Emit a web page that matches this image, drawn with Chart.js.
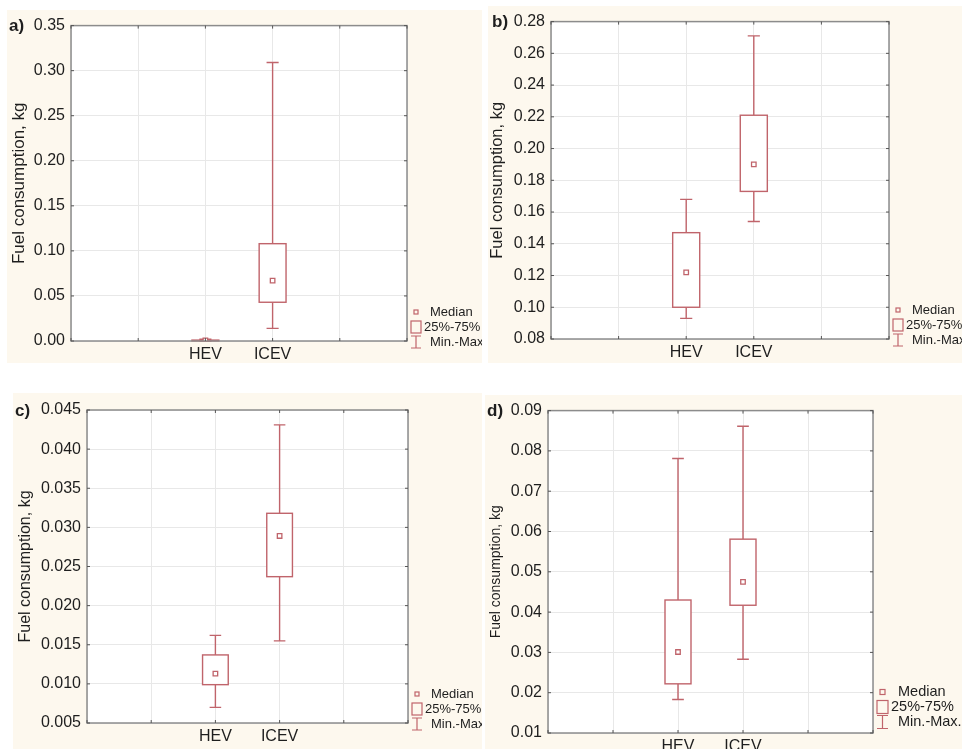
<!DOCTYPE html>
<html>
<head>
<meta charset="utf-8">
<script src="https://cdn.jsdelivr.net/npm/chart.js@4.4.1/dist/chart.umd.min.js"></script>
<style>
  html, body { margin: 0; padding: 0; background: #ffffff; }
  body { width: 962px; height: 749px; position: relative; overflow: hidden; }
  .panel { position: absolute; background: #fdf8ee; }
  .panel canvas { display: block; }
</style>
</head>
<body>
<div class="panel" id="pa" style="left:7px;top:10px;width:475px;height:353px"><canvas id="ca"></canvas></div>
<div class="panel" id="pb" style="left:488px;top:6px;width:474px;height:357px"><canvas id="cb"></canvas></div>
<div class="panel" id="pc" style="left:13px;top:393px;width:469px;height:356px"><canvas id="cc"></canvas></div>
<div class="panel" id="pd" style="left:485px;top:395px;width:477px;height:354px"><canvas id="cd"></canvas></div>
<script>
// groups sit on a 0..5 linear axis, at positions 2 and 3
const groups = ['HEV', 'ICEV'];
const groupPos = [2, 3];

// [min, q25, median, q75, max]
const aHEV = [0.0000, 0.0002, 0.0006, 0.0010, 0.0020];
const aICEV = [0.014, 0.043, 0.067, 0.108, 0.309];
const bHEV = [0.093, 0.100, 0.122, 0.147, 0.168];
const bICEV = [0.154, 0.173, 0.190, 0.221, 0.271];
const cHEV = [0.0070, 0.0099, 0.0113, 0.0137, 0.0162];
const cICEV = [0.0155, 0.0237, 0.0289, 0.0318, 0.0431];
const dHEV = [0.0183, 0.0222, 0.0301, 0.0430, 0.0781];
const dICEV = [0.0283, 0.0417, 0.0475, 0.0581, 0.0861];

const letters = ['a)', 'b)', 'c)', 'd)'];
const yMins = [0, 0.08, 0.005, 0.01];
const yMaxs = [0.35, 0.28, 0.045, 0.09];
const ySteps = [0.05, 0.02, 0.005, 0.01];
const yDecimals = [2, 2, 3, 2];
const legendLabels = ['Median', '25%-75%', 'Min.-Max.'];
const legendLabelsA = ['Median', '25%-75%', 'Min.-Max'];

const RED = '#c0646b';
const TEXT = '#1e1e1e';

const boxPlugin = {
  id: 'boxplot',
  beforeDraw(chart) {
    const { ctx, chartArea: a } = chart;
    ctx.save();
    ctx.fillStyle = '#ffffff';
    ctx.fillRect(a.left, a.top, a.right - a.left, a.bottom - a.top);
    ctx.restore();
  },
  beforeDatasetsDraw(chart, args, opts) {
    const { ctx, scales: { x, y } } = chart;
    ctx.save();
    ctx.strokeStyle = opts.color;
    ctx.lineWidth = 1.4;
    opts.stats.forEach((s, i) => {
      const cx = x.getPixelForValue(groupPos[i]);
      const half = x.getPixelForValue(groupPos[i] + 0.2) - cx;
      const cap = x.getPixelForValue(groupPos[i] + 0.09) - cx;
      const pMin = y.getPixelForValue(s[0]);
      const pQ1 = y.getPixelForValue(s[1]);
      const pQ3 = y.getPixelForValue(s[3]);
      const pMax = y.getPixelForValue(s[4]);
      ctx.beginPath();
      ctx.moveTo(cx, pMax); ctx.lineTo(cx, pQ3);
      ctx.moveTo(cx, pQ1); ctx.lineTo(cx, pMin);
      ctx.moveTo(cx - cap, pMax); ctx.lineTo(cx + cap, pMax);
      ctx.moveTo(cx - cap, pMin); ctx.lineTo(cx + cap, pMin);
      ctx.stroke();
      ctx.fillStyle = '#ffffff';
      ctx.fillRect(cx - half, pQ3, half * 2, pQ1 - pQ3);
      ctx.strokeRect(cx - half, pQ3, half * 2, pQ1 - pQ3);
    });
    ctx.restore();
  },
  afterDraw(chart, args, opts) {
    const { ctx, chartArea: a, scales: { x, y } } = chart;
    ctx.save();
    // frame
    ctx.strokeStyle = '#8c8c8c';
    ctx.lineWidth = 1.5;
    ctx.strokeRect(a.left, a.top, a.right - a.left, a.bottom - a.top);
    // small inner tick marks on the frame
    ctx.strokeStyle = '#555555';
    ctx.lineWidth = 1;
    ctx.beginPath();
    x.ticks.forEach(t => {
      const px = x.getPixelForValue(t.value);
      ctx.moveTo(px, a.top); ctx.lineTo(px, a.top + 3);
      ctx.moveTo(px, a.bottom); ctx.lineTo(px, a.bottom - 3);
    });
    y.ticks.forEach(t => {
      const py = y.getPixelForValue(t.value);
      ctx.moveTo(a.left, py); ctx.lineTo(a.left + 3, py);
      ctx.moveTo(a.right, py); ctx.lineTo(a.right - 3, py);
    });
    ctx.stroke();

    // panel letter
    ctx.fillStyle = TEXT;
    ctx.font = 'bold 17px "Liberation Sans", Arial, sans-serif';
    ctx.textBaseline = 'middle';
    ctx.textAlign = 'left';
    ctx.fillText(opts.letter, opts.letterX, a.top + 1);

    // legend
    const L = opts.leg;
    const lx = a.right + L.dx;
    const by = a.bottom;
    ctx.strokeStyle = RED;
    ctx.lineWidth = 1.2;
    const m = L.med;
    ctx.strokeRect(lx + (L.box - m) / 2, by + L.y0 - m / 2, m, m);
    ctx.strokeRect(lx, by + L.y1 - L.box / 2 - 1, L.box, L.box + 2);
    const cx = lx + L.box / 2;
    const wy = by + L.y2;
    ctx.beginPath();
    ctx.moveTo(cx, wy - L.wh); ctx.lineTo(cx, wy + L.wh);
    ctx.moveTo(lx, wy - L.wh); ctx.lineTo(lx + L.box, wy - L.wh);
    ctx.moveTo(lx, wy + L.wh); ctx.lineTo(lx + L.box, wy + L.wh);
    ctx.stroke();
    ctx.fillStyle = TEXT;
    ctx.font = L.font + 'px "Liberation Sans", Arial, sans-serif';
    ctx.fillText(opts.legend[0], lx + L.tx, by + L.y0);
    ctx.fillText(opts.legend[1], lx + L.box + 3, by + L.y1);
    ctx.fillText(opts.legend[2], lx + L.tx, by + L.y2);
    ctx.restore();
  }
};

function makePanel(canvasId, i, hev, icev, layout) {
  const canvas = document.getElementById(canvasId);
  const box = canvas.parentElement;
  canvas.width = box.clientWidth;
  canvas.height = box.clientHeight;
  const stats = [hev, icev];
  return new Chart(canvas, {
    type: 'scatter',
    data: {
      datasets: [{
        data: stats.map((s, k) => ({ x: groupPos[k], y: s[2] })),
        pointStyle: 'rect',
        radius: 3.2,
        borderWidth: 1.3,
        borderColor: RED,
        backgroundColor: '#ffffff'
      }]
    },
    options: {
      responsive: false,
      animation: false,
      layout: { padding: { left: 0, top: layout.top, right: layout.right, bottom: 0 } },
      plugins: {
        legend: { display: false },
        tooltip: { enabled: false },
        boxplot: {
          stats: stats,
          color: RED,
          letter: letters[i],
          letterX: layout.letterX,
          leg: layout.leg,
          legend: i === 0 ? legendLabelsA : legendLabels
        }
      },
      scales: {
        x: {
          type: 'linear',
          min: 0,
          max: 5,
          afterFit: s => { s.height = layout.bottom; },
          ticks: {
            stepSize: 1,
            padding: 4,
            color: TEXT,
            font: { size: 16, family: '"Liberation Sans", Arial, sans-serif' },
            callback: v => {
              const k = groupPos.indexOf(v);
              return k >= 0 ? groups[k] : '';
            }
          },
          grid: { color: '#e8e8e8', drawTicks: false },
          border: { display: false }
        },
        y: {
          min: yMins[i],
          max: yMaxs[i],
          afterFit: s => { s.width = layout.yWidth; },
          ticks: {
            stepSize: ySteps[i],
            padding: 6,
            color: TEXT,
            font: { size: 16, family: '"Liberation Sans", Arial, sans-serif' },
            callback: v => Number(v).toFixed(yDecimals[i])
          },
          grid: { color: '#e8e8e8', drawTicks: false },
          border: { display: false },
          title: {
            display: true,
            text: 'Fuel consumption, kg',
            color: TEXT,
            padding: { top: layout.titlePad, bottom: 0 },
            font: { size: layout.titleSize, family: '"Liberation Sans", Arial, sans-serif' }
          }
        }
      }
    },
    plugins: [boxPlugin]
  });
}

const legSmall = { dx: 4, box: 10, med: 4, y0: -29, y1: -14, y2: 1, wh: 6, tx: 19, font: 13 };
const legLarge = { dx: 4, box: 11, med: 5, y0: -41, y1: -26, y2: -11, wh: 6.5, tx: 21, font: 14.5 };

makePanel('ca', 0, aHEV, aICEV, { yWidth: 64, top: 14, right: 75, bottom: 22, letterX: 2, titleSize: 17, titlePad: 2, leg: legSmall });
makePanel('cb', 1, bHEV, bICEV, { yWidth: 63, top: 12, right: 73, bottom: 24, letterX: 4, titleSize: 16.5, titlePad: 0, leg: legSmall });
makePanel('cc', 2, cHEV, cICEV, { yWidth: 74, top: 17, right: 74, bottom: 26, letterX: 2, titleSize: 16, titlePad: 3, leg: legSmall });
makePanel('cd', 3, dHEV, dICEV, { yWidth: 63, top: 14, right: 89, bottom: 16, letterX: 2, titleSize: 14, titlePad: 3, leg: legLarge });
</script>
</body>
</html>
